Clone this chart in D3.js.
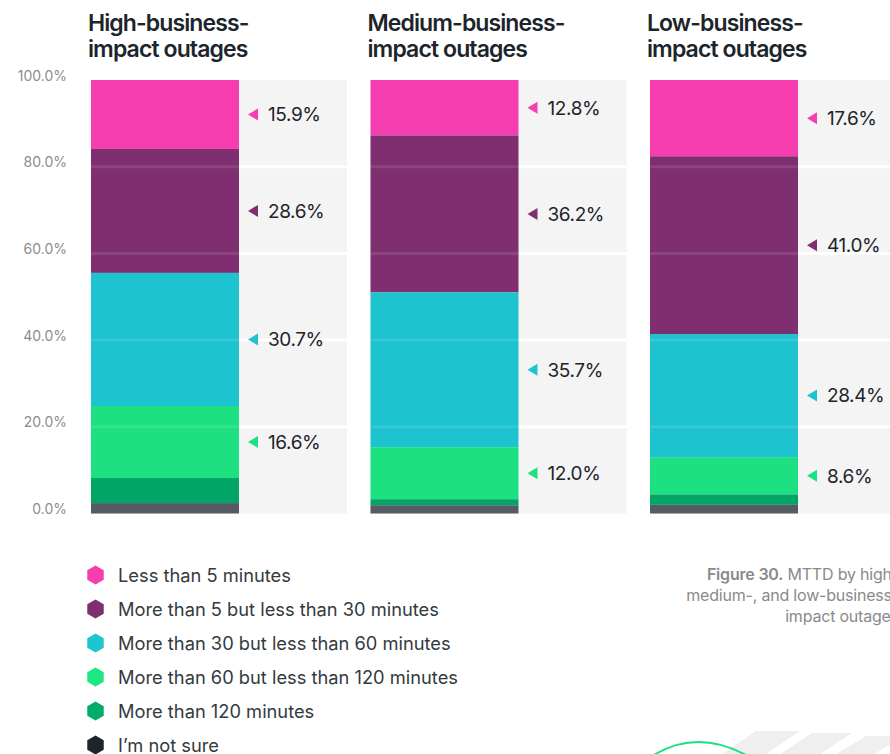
<!DOCTYPE html>
<html>
<head>
<meta charset="utf-8">
<script src="https://cdn.jsdelivr.net/npm/d3@7"></script>
<style>
  html, body { margin: 0; padding: 0; background: #fff; }
  svg { display: block; font-family: Inter, "Noto Sans", sans-serif; }
</style>
</head>
<body>
<svg id="chart" width="890" height="754"></svg>
<script>
// Outage categories (one stacked column each) and their two-line titles
const categories = ["High", "Medium", "Low"];
const titleLines = [
  ["High-business-", "impact outages"],
  ["Medium-business-", "impact outages"],
  ["Low-business-", "impact outages"]
];

// Share of respondents (%) by mean time to detect
const lessThan5   = [15.9, 12.8, 17.6];
const from5to30   = [28.6, 36.2, 41.0];
const from30to60  = [30.7, 35.7, 28.4];
const from60to120 = [16.6, 12.0, 8.6];
const over120     = [5.8, 1.4, 2.4];
const notSure     = [2.4, 1.9, 2.0];

const seriesKeys = ["lt5", "m5_30", "m30_60", "m60_120", "gt120", "unsure"];
const seriesNames = [
  "Less than 5 minutes",
  "More than 5 but less than 30 minutes",
  "More than 30 but less than 60 minutes",
  "More than 60 but less than 120 minutes",
  "More than 120 minutes",
  "I\u2019m not sure"
];
const seriesValues = [lessThan5, from5to30, from30to60, from60to120, over120, notSure];
const barColors    = ["#f73eb0", "#7f2f6f", "#1dc3cf", "#1de181", "#03a566", "#555a63"];
const legendColors = ["#f73eb0", "#7e2f6e", "#1ec5d1", "#1ce783", "#00ac69", "#1d252c"];
const labelledSeries = 4; // value labels for the first four series only

const yTicks = [0, 20, 40, 60, 80, 100];

// Build table rows for d3.stack
const rows = categories.map((c, i) => {
  const r = { category: c };
  seriesKeys.forEach((k, s) => { r[k] = seriesValues[s][i]; });
  return r;
});
// stack top-down: first series at the top of the column
const stacked = d3.stack().keys(seriesKeys.slice().reverse())(rows).reverse();

const svg = d3.select("#chart");

const y = d3.scaleLinear().domain([0, 100]).range([513.5, 80]);
const x = d3.scaleBand().domain(categories).range([91, 929.5]).padding(0);
const barW = 148;
const panelW = 256;

// Gray panels
svg.append("g").selectAll("rect").data(categories).join("rect")
  .attr("x", d => x(d)).attr("y", y(100))
  .attr("width", panelW).attr("height", y(0) - y(100))
  .attr("fill", "#f4f4f4");

// Gridlines inside the panels
const gridVals = yTicks.filter(v => v > 0 && v < 100);
const gridG = svg.append("g");
categories.forEach(c => {
  gridG.append("g").selectAll("line").data(gridVals).join("line")
    .attr("x1", x(c) + barW).attr("x2", x(c) + panelW)
    .attr("y1", d => y(d)).attr("y2", d => y(d))
    .attr("stroke", "#fff").attr("stroke-width", 3);
});

// Stacked bars
const barG = svg.append("g");
stacked.forEach((layer, s) => {
  barG.append("g").selectAll("rect").data(layer).join("rect")
    .attr("x", d => x(d.data.category))
    .attr("y", d => y(d[1]))
    .attr("width", barW)
    .attr("height", d => y(d[0]) - y(d[1]))
    .attr("fill", barColors[s]);
});

// Faint gridlines passing over the bars
const overG = svg.append("g");
categories.forEach(c => {
  overG.append("g").selectAll("line").data(gridVals).join("line")
    .attr("x1", x(c)).attr("x2", x(c) + barW)
    .attr("y1", d => y(d)).attr("y2", d => y(d))
    .attr("stroke", "#fff").attr("stroke-opacity", 0.1).attr("stroke-width", 3);
});

// Value labels with pointer triangles
const labelG = svg.append("g");
stacked.slice(0, labelledSeries).forEach((layer, s) => {
  layer.forEach(d => {
    const cx = x(d.data.category) + barW;
    const cy = (y(d[0]) + y(d[1])) / 2;
    labelG.append("path")
      .attr("d", `M${cx + 9},${cy} L${cx + 19},${cy - 6} L${cx + 19},${cy + 6} Z`)
      .attr("fill", barColors[s]);
    labelG.append("text")
      .attr("x", cx + 29).attr("y", cy).attr("dy", "0.36em")
      .attr("font-size", 19).attr("letter-spacing", -0.4)
      .attr("fill", "#1d252c")
      .text(d3.format(".1f")(d[1] - d[0]) + "%");
  });
});

// Y axis
const yAxis = d3.axisLeft(y).tickValues(yTicks).tickSize(0).tickPadding(0)
  .tickFormat(d => d3.format(".1f")(d) + "%");
const axisG = svg.append("g").attr("transform", "translate(67,0)").call(yAxis);
axisG.select(".domain").remove();
axisG.selectAll("text")
  .attr("dy", "0")
  .attr("font-family", "Inter, sans-serif")
  .attr("font-size", 14)
  .attr("fill", "#8c8c8c");

// Panel titles
const titleG = svg.append("g");
categories.forEach((c, i) => {
  const t = titleG.append("text")
    .attr("x", x(c) - 3).attr("y", 31)
    .attr("font-size", 23).attr("font-weight", 600)
    .attr("letter-spacing", -0.9)
    .attr("fill", "#1d252c");
  titleLines[i].forEach((line, j) => {
    t.append("tspan").attr("x", x(c) - 3).attr("dy", j === 0 ? 0 : 26).text(line);
  });
});

// Legend with hexagon markers
const hex = (cx, cy, r) => d3.range(6).map(k => {
  const a = Math.PI / 3 * k - Math.PI / 2;
  return [cx + r * Math.cos(a), cy + r * Math.sin(a)];
});
const legendY = d3.scalePoint().domain(seriesNames).range([575, 745]);
const legG = svg.append("g");
seriesNames.forEach((name, s) => {
  const cy = legendY(name);
  legG.append("path")
    .attr("d", d3.line()(hex(95.5, cy, 9.5)) + "Z")
    .attr("fill", legendColors[s]);
  legG.append("text")
    .attr("x", 118).attr("y", cy).attr("dy", "0.36em")
    .attr("font-size", 18.3)
    .attr("fill", "#333a40")
    .text(name);
});

// Figure caption (runs off the right edge)
const cap = svg.append("text")
  .attr("text-anchor", "end")
  .attr("font-size", 16).attr("fill", "#8a8a8a")
  .attr("letter-spacing", -0.2);
const capLines = [
  [["Figure 30.", 600], [" MTTD by high-", 400]],
  [["medium-, and low-business-", 400]],
  [["impact outages", 400]]
];
capLines.forEach((parts, j) => {
  parts.forEach(([txt, w], k) => {
    const ts = cap.append("tspan").attr("font-weight", w).text(txt);
    if (k === 0) ts.attr("x", 899).attr("y", 580 + j * 21);
  });
});

// Decorative shapes at the bottom right
const deco = svg.append("g");
deco.append("path")
  .attr("d", "M722,754 L756,731 L800,731 L766,754 Z M780,754 L812,733 L852,733 L820,754 Z M836,754 L866,736 L905,736 L874,754 Z")
  .attr("fill", "#efefef");
deco.append("path")
  .attr("d", "M652,756 Q697,728 748,756")
  .attr("fill", "none").attr("stroke", "#1de181").attr("stroke-width", 2);
</script>
</body>
</html>
